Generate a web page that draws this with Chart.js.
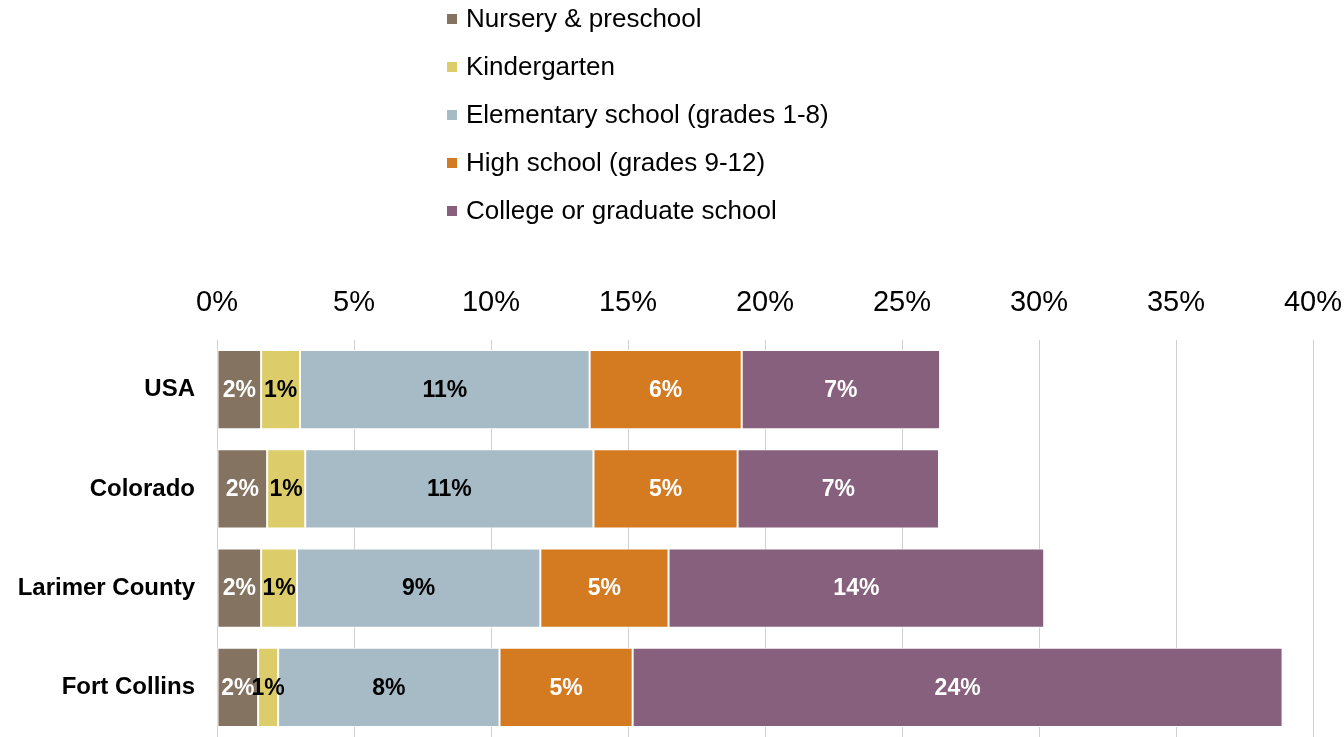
<!DOCTYPE html>
<html>
<head>
<meta charset="utf-8">
<script src="https://cdn.jsdelivr.net/npm/chart.js@4/dist/chart.umd.min.js"></script>
<style>
  html, body { margin: 0; padding: 0; background: #fff; }
  #wrap { width: 1344px; height: 737px; }
</style>
</head>
<body>
<div id="wrap"><canvas id="canvasEscuela"></canvas></div>
<script>
// categorias y series (porcentaje de la poblacion)
var categorias = ["USA", "Colorado", "Larimer County", "Fort Collins"];
var nursery = [1.61, 1.83, 1.61, 1.50];
var kinder = [1.42, 1.39, 1.31, 0.73];
var elementary = [10.57, 10.52, 8.88, 8.08];
var highSchool = [5.55, 5.26, 4.68, 4.86];
var college = [7.24, 7.35, 13.71, 23.72];
var ticksX = [0, 5, 10, 15, 20, 25, 30, 35, 40];

var series = [
  { label: "Nursery & preschool", data: nursery, color: "#857362", text: "#ffffff" },
  { label: "Kindergarten", data: kinder, color: "#dccd6a", text: "#000000" },
  { label: "Elementary school (grades 1-8)", data: elementary, color: "#a7bbc6", text: "#000000" },
  { label: "High school (grades 9-12)", data: highSchool, color: "#d47b22", text: "#ffffff" },
  { label: "College or graduate school", data: college, color: "#86607c", text: "#ffffff" }
];

var fuente = "'Liberation Sans', Arial, sans-serif";

// leyenda vertical arriba
var leyendaPlugin = {
  id: "leyenda",
  afterDraw: function (chart) {
    var c = chart.ctx;
    c.save();
    c.font = "26px " + fuente;
    c.textBaseline = "middle";
    c.textAlign = "left";
    chart.data.datasets.forEach(function (ds, i) {
      var y = 19 + i * 48;
      c.fillStyle = ds.backgroundColor;
      c.fillRect(447, y - 5, 10, 10);
      c.fillStyle = "#000";
      c.fillText(ds.label, 466, y + 1);
    });
    c.restore();
  }
};

// etiquetas dentro de las barras
var etiquetasPlugin = {
  id: "etiquetas",
  afterDatasetsDraw: function (chart) {
    var c = chart.ctx;
    c.save();
    c.font = "bold 23px " + fuente;
    c.textAlign = "center";
    c.textBaseline = "middle";
    chart.data.datasets.forEach(function (ds, i) {
      var meta = chart.getDatasetMeta(i);
      meta.data.forEach(function (bar, j) {
        var p = bar.getProps(["x", "y", "base"], true);
        c.fillStyle = series[i].text;
        c.fillText(Math.round(ds.data[j]) + "%", (p.x + p.base) / 2, p.y + 1);
      });
    });
    c.restore();
  }
};

function sinRelleno(scale) {
  scale.paddingTop = 0;
  scale.paddingBottom = 0;
  scale.paddingLeft = 0;
  scale.paddingRight = 0;
}

var ctx = document.getElementById("canvasEscuela").getContext("2d");
window.myBar = new Chart(ctx, {
  type: "bar",
  data: {
    labels: categorias,
    datasets: series.map(function (s) {
      return {
        label: s.label,
        data: s.data,
        backgroundColor: s.color,
        borderColor: "#ffffff",
        borderWidth: 1,
        borderSkipped: false,
        barPercentage: 0.8,
        categoryPercentage: 1.0
      };
    })
  },
  options: {
    indexAxis: "y",
    responsive: true,
    maintainAspectRatio: false,
    animation: false,
    layout: { padding: { top: 289, right: 31, left: 0, bottom: 0 } },
    plugins: {
      legend: { display: false },
      tooltip: { enabled: false }
    },
    scales: {
      x: {
        position: "top",
        stacked: true,
        min: 0,
        max: 40,
        afterBuildTicks: function (scale) {
          scale.ticks = ticksX.map(function (v) { return { value: v }; });
        },
        afterFit: function (scale) {
          scale.height = 51;
          sinRelleno(scale);
        },
        grid: { color: "#d0d0d0", lineWidth: 1, drawTicks: false },
        border: { display: false },
        ticks: {
          padding: 20,
          color: "#000",
          font: { family: fuente, size: 29 },
          callback: function (v) { return v + "%"; }
        }
      },
      y: {
        stacked: true,
        grid: { display: false },
        border: { display: false },
        afterFit: function (scale) {
          scale.width = 217;
          sinRelleno(scale);
        },
        ticks: {
          padding: 14,
          color: "#000",
          font: { family: fuente, size: 24, weight: "bold" }
        }
      }
    }
  },
  plugins: [leyendaPlugin, etiquetasPlugin]
});
</script>
</body>
</html>
